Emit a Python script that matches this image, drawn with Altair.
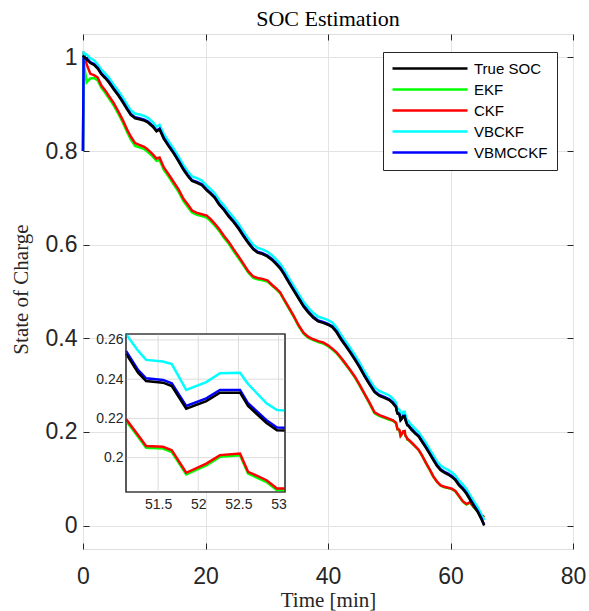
import altair as alt
import pandas as pd

# ---------------- data ----------------
time_min = [
    0, 0.1, 0.6, 1.2, 1.8, 2.4, 3.0, 3.6, 4.2, 5.0,
    5.8, 6.5, 7.2, 7.8, 8.5, 9.2, 10.0, 10.6, 11.4, 12.0,
    12.5, 13.2, 14.0, 14.8, 15.6, 16.4, 17.2, 17.8, 18.6, 19.4,
    20.2, 20.8, 21.5, 22.2, 23.0, 23.8, 24.6, 25.4, 26.2, 27.0,
    27.8, 28.5, 29.3, 30.1, 30.8, 31.5, 32.2, 32.8, 33.6, 34.4,
    35.2, 36.0, 36.8, 37.6, 38.4, 39.2, 40.0, 40.7, 41.4, 42.1,
    42.8, 43.6, 44.4, 45.2, 46.0, 46.8, 47.6, 48.4, 49.2, 50.0,
    50.6,
    51.1, 51.25, 51.35, 51.56, 51.67, 51.85, 52.1, 52.27, 52.52, 52.62, 52.85, 52.98, 53.08,
    53.6, 54.2, 54.8, 55.4, 56.0, 56.6, 57.2, 57.8, 58.4, 59.0,
    59.6, 60.2, 60.8, 61.4, 62.0, 62.6, 63.2, 63.8, 64.4, 65.0,
    65.5,
]

true_soc = [
    1.000, 1.002, 0.996, 0.988, 0.984, 0.976, 0.964, 0.956, 0.947, 0.932,
    0.918, 0.904, 0.889, 0.877, 0.870, 0.868, 0.865, 0.861, 0.852, 0.842,
    0.846, 0.826, 0.810, 0.795, 0.778, 0.760, 0.745, 0.736, 0.732, 0.727,
    0.716, 0.709, 0.700, 0.686, 0.674, 0.660, 0.648, 0.634, 0.618, 0.603,
    0.590, 0.583, 0.580, 0.575, 0.568, 0.559, 0.549, 0.537, 0.519, 0.502,
    0.485, 0.468, 0.455, 0.444, 0.436, 0.433, 0.429, 0.424, 0.413, 0.398,
    0.385, 0.370, 0.354, 0.337, 0.318, 0.301, 0.285, 0.277, 0.273, 0.268,
    0.261,
    0.2530, 0.2433, 0.2390, 0.2382, 0.2365, 0.2249, 0.2288, 0.2331, 0.2331, 0.2263, 0.2177, 0.2140, 0.2138,
    0.205, 0.197, 0.190, 0.178, 0.166, 0.153, 0.140, 0.127, 0.118, 0.113,
    0.109, 0.104, 0.097, 0.086, 0.078, 0.068, 0.055, 0.042, 0.030, 0.015,
    0.000,
]

ekf = [
    0.800, 0.990, 0.947, 0.955, 0.956, 0.951, 0.935, 0.925, 0.913, 0.898,
    0.879, 0.861, 0.841, 0.825, 0.811, 0.808, 0.804, 0.798, 0.788, 0.779,
    0.781, 0.760, 0.745, 0.729, 0.713, 0.693, 0.679, 0.669, 0.664, 0.661,
    0.658, 0.651, 0.641, 0.630, 0.615, 0.602, 0.586, 0.571, 0.556, 0.540,
    0.529, 0.526, 0.524, 0.521, 0.513, 0.505, 0.496, 0.482, 0.464, 0.446,
    0.426, 0.410, 0.401, 0.396, 0.392, 0.389, 0.383, 0.376, 0.368, 0.357,
    0.345, 0.331, 0.316, 0.298, 0.279, 0.260, 0.240, 0.234, 0.230, 0.226,
    0.224,
    0.2188, 0.2106, 0.2050, 0.2046, 0.2029, 0.1914, 0.1961, 0.2004, 0.2012, 0.1919, 0.1876, 0.1834, 0.1834,
    0.177, 0.169, 0.161, 0.148, 0.133, 0.119, 0.104, 0.093, 0.085, 0.082,
    0.080, 0.078, 0.073, 0.062, 0.051, 0.045, 0.049, 0.039, 0.031, 0.023,
    0.017,
]

ckf = [
    0.800, 1.012, 0.985, 0.965, 0.962, 0.957, 0.940, 0.930, 0.918, 0.903,
    0.884, 0.866, 0.846, 0.831, 0.817, 0.813, 0.809, 0.803, 0.793, 0.784,
    0.786, 0.765, 0.750, 0.734, 0.718, 0.698, 0.684, 0.673, 0.668, 0.665,
    0.662, 0.655, 0.645, 0.634, 0.619, 0.606, 0.590, 0.575, 0.559, 0.543,
    0.532, 0.529, 0.527, 0.524, 0.515, 0.507, 0.498, 0.484, 0.466, 0.448,
    0.428, 0.412, 0.403, 0.398, 0.394, 0.391, 0.385, 0.378, 0.370, 0.359,
    0.347, 0.333, 0.318, 0.300, 0.281, 0.262, 0.242, 0.236, 0.232, 0.228,
    0.225,
    0.2197, 0.2115, 0.2059, 0.2055, 0.2038, 0.1923, 0.1970, 0.2013, 0.2021, 0.1928, 0.1885, 0.1843, 0.1843,
    0.178, 0.170, 0.162, 0.149, 0.134, 0.120, 0.105, 0.094, 0.086, 0.083,
    0.081, 0.079, 0.074, 0.063, 0.052, 0.046, 0.050, 0.040, 0.032, 0.024,
    0.018,
]

vbckf = [
    0.800, 1.010, 1.006, 0.998, 0.994, 0.985, 0.974, 0.966, 0.957, 0.942,
    0.928, 0.914, 0.899, 0.887, 0.880, 0.878, 0.875, 0.871, 0.862, 0.852,
    0.856, 0.836, 0.820, 0.805, 0.788, 0.770, 0.755, 0.746, 0.742, 0.737,
    0.726, 0.719, 0.710, 0.696, 0.684, 0.670, 0.658, 0.644, 0.628, 0.613,
    0.600, 0.593, 0.590, 0.585, 0.578, 0.569, 0.559, 0.547, 0.529, 0.512,
    0.495, 0.478, 0.465, 0.454, 0.446, 0.443, 0.439, 0.434, 0.423, 0.408,
    0.395, 0.380, 0.364, 0.347, 0.328, 0.311, 0.295, 0.287, 0.283, 0.278,
    0.271,
    0.2630, 0.2545, 0.2498, 0.2490, 0.2477, 0.2345, 0.2385, 0.2430, 0.2433, 0.2375, 0.2277, 0.2243, 0.2240,
    0.215, 0.207, 0.200, 0.188, 0.176, 0.163, 0.150, 0.137, 0.128, 0.123,
    0.119, 0.114, 0.107, 0.096, 0.088, 0.078, 0.065, 0.052, 0.040, 0.025,
    0.012,
]

vbmcckf = [
    0.800, 1.000, 0.998, 0.990, 0.986, 0.978, 0.966, 0.958, 0.949, 0.934,
    0.920, 0.906, 0.891, 0.879, 0.872, 0.870, 0.867, 0.863, 0.854, 0.844,
    0.848, 0.828, 0.812, 0.797, 0.780, 0.762, 0.747, 0.738, 0.734, 0.729,
    0.718, 0.711, 0.702, 0.688, 0.676, 0.662, 0.650, 0.636, 0.620, 0.605,
    0.592, 0.585, 0.582, 0.577, 0.570, 0.561, 0.551, 0.539, 0.521, 0.504,
    0.487, 0.470, 0.457, 0.446, 0.438, 0.435, 0.431, 0.426, 0.415, 0.400,
    0.387, 0.372, 0.356, 0.339, 0.320, 0.303, 0.287, 0.279, 0.275, 0.270,
    0.263,
    0.2544, 0.2447, 0.2404, 0.2396, 0.2379, 0.2263, 0.2302, 0.2345, 0.2345, 0.2277, 0.2191, 0.2154, 0.2152,
    0.207, 0.199, 0.192, 0.180, 0.168, 0.155, 0.142, 0.129, 0.120, 0.115,
    0.111, 0.106, 0.099, 0.088, 0.080, 0.070, 0.057, 0.044, 0.032, 0.017,
    0.002,
]

series_names = ["True SOC", "EKF", "CKF", "VBCKF", "VBMCCKF"]
series_colors = ["#000000", "#00ff00", "#ff0000", "#00ffff", "#0000ff"]
series_values = [true_soc, ekf, ckf, vbckf, vbmcckf]
draw_order = ["EKF", "CKF", "VBCKF", "VBMCCKF", "True SOC"]

x_domain = [0, 80]
y_domain = [-0.05, 1.05]
x_ticks = [0, 20, 40, 60, 80]
y_ticks = [0, 0.2, 0.4, 0.6, 0.8, 1]

inset_x_domain = [51.1, 53.08]
inset_y_domain = [0.1825, 0.263]
inset_x_ticks = [51.5, 52, 52.5, 53]
inset_y_ticks = [0.2, 0.22, 0.24, 0.26]

# ---------------- layout ----------------
W, H = 490, 515
INSET_LEFT, INSET_RIGHT, INSET_TOP, INSET_BOTTOM = 43, 202, 300, 458
TICK_LEN = 6

rows = []
for name, vals in zip(series_names, series_values):
    for t, v in zip(time_min, vals):
        rows.append({"t": t, "soc": v, "series": name})
df = pd.DataFrame(rows)
df_in = df[(df["t"] >= inset_x_domain[0]) & (df["t"] <= inset_x_domain[1])]

LABEL_FONT = "Liberation Sans"
SERIF = "Liberation Serif"
AX_COLOR = "#262626"

color_enc = alt.Color(
    "series:N",
    scale=alt.Scale(domain=series_names, range=series_colors),
    legend=alt.Legend(
        title=None, orient="none", legendX=300, legendY=18, direction="vertical",
        symbolType="M-7,0H68", symbolSize=4, symbolStrokeWidth=2.5,
        labelFont=LABEL_FONT, labelFontSize=15, labelColor="#000000",
        labelOffset=67, rowPadding=5, padding=9,
        strokeColor=AX_COLOR, fillColor="white",
    ),
)

main_xscale = alt.Scale(domain=x_domain, nice=False, zero=False)
main_yscale = alt.Scale(domain=y_domain, nice=False, zero=False)

main_x = alt.X(
    "t:Q", scale=main_xscale,
    axis=alt.Axis(
        values=x_ticks, format="~f", grid=True, gridColor="#e3e3e3", gridWidth=1,
        domain=False, ticks=False, labelFont=LABEL_FONT, labelFontSize=23,
        labelColor=AX_COLOR, labelPadding=16, labelFlush=False, labelOverlap=False,
        title="Time [min]", titleFont=SERIF, titleFontSize=21, titleFontWeight="normal",
        titleColor=AX_COLOR, titleBaseline="alphabetic", titleY=57,
    ),
)
main_y = alt.Y(
    "soc:Q", scale=main_yscale,
    axis=alt.Axis(
        values=y_ticks, format="~f", grid=True, gridColor="#e3e3e3", gridWidth=1,
        domain=False, ticks=False, labelFont=LABEL_FONT, labelFontSize=23,
        labelColor=AX_COLOR, labelPadding=6, labelFlush=False, labelOverlap=False,
        title="State of Charge", titleFont=SERIF, titleFontSize=21, titleFontWeight="normal",
        titleColor=AX_COLOR, titleBaseline="alphabetic", titleAngle=270, titleX=-56, titleY=255,
    ),
)

main_layers = []
for name in draw_order:
    main_layers.append(
        alt.Chart(df[df["series"] == name])
        .mark_line(strokeWidth=2.5)
        .encode(x=main_x, y=main_y, color=color_enc)
    )
main = alt.layer(*main_layers)

# inward ticks on all four sides of the main box (MATLAB style)
tick_df = pd.DataFrame({"t": x_domain, "soc": y_domain})


def tick_axis(orient, values):
    return alt.Axis(orient=orient, offset=-TICK_LEN, values=values, tickSize=TICK_LEN,
                    tickColor=AX_COLOR, tickWidth=1, labels=False, domain=False,
                    grid=False, title=None)


ticks_tr = alt.Chart(tick_df).mark_point(opacity=0).encode(
    x=alt.X("t:Q", scale=main_xscale, axis=tick_axis("top", x_ticks)),
    y=alt.Y("soc:Q", scale=main_yscale, axis=tick_axis("right", y_ticks)),
)
ticks_bl = alt.Chart(tick_df).mark_point(opacity=0).encode(
    x=alt.X("t:Q", scale=main_xscale, axis=tick_axis("bottom", x_ticks)),
    y=alt.Y("soc:Q", scale=main_yscale, axis=tick_axis("left", y_ticks)),
)

# ---------------- inset ----------------
in_xscale = alt.Scale(domain=inset_x_domain, range=[INSET_LEFT, INSET_RIGHT], nice=False, zero=False)
in_yscale = alt.Scale(domain=inset_y_domain, range=[INSET_BOTTOM, INSET_TOP], nice=False, zero=False)
in_xaxis = alt.Axis(
    orient="bottom", offset=-(H - INSET_BOTTOM), values=inset_x_ticks, format="~f",
    grid=False, domain=False, ticks=False, labelFont=LABEL_FONT, labelFontSize=14,
    labelColor=AX_COLOR, labelPadding=5, labelFlush=False, labelOverlap=False, title=None,
)
in_yaxis = alt.Axis(
    orient="left", offset=-INSET_LEFT, values=inset_y_ticks, format="~f",
    grid=False, domain=False, ticks=False, labelFont=LABEL_FONT, labelFontSize=14,
    labelColor=AX_COLOR, labelPadding=3, labelFlush=False, labelOverlap=False, title=None,
)

frame_df = pd.DataFrame([{"x0": inset_x_domain[0], "x1": inset_x_domain[1],
                          "y0": inset_y_domain[0], "y1": inset_y_domain[1]}])
frame = alt.Chart(frame_df).mark_rect(fill="white", stroke="#3a3a3a", strokeWidth=1.2).encode(
    x=alt.X("x0:Q", scale=in_xscale, axis=in_xaxis), x2="x1:Q",
    y=alt.Y("y0:Q", scale=in_yscale, axis=in_yaxis), y2="y1:Q",
)

vgrid_df = pd.DataFrame({"gx": inset_x_ticks,
                         "y0": [inset_y_domain[0]] * len(inset_x_ticks),
                         "y1": [inset_y_domain[1]] * len(inset_x_ticks)})
vgrid = alt.Chart(vgrid_df).mark_rule(color="#dcdcdc", strokeWidth=1).encode(
    x=alt.X("gx:Q", scale=in_xscale, axis=in_xaxis),
    y=alt.Y("y0:Q", scale=in_yscale, axis=in_yaxis), y2="y1:Q",
)
hgrid_df = pd.DataFrame({"gy": inset_y_ticks,
                         "x0": [inset_x_domain[0]] * len(inset_y_ticks),
                         "x1": [inset_x_domain[1]] * len(inset_y_ticks)})
hgrid = alt.Chart(hgrid_df).mark_rule(color="#dcdcdc", strokeWidth=1).encode(
    x=alt.X("x0:Q", scale=in_xscale, axis=in_xaxis), x2="x1:Q",
    y=alt.Y("gy:Q", scale=in_yscale, axis=in_yaxis),
)

inset_layers = [frame, vgrid, hgrid]
for name in draw_order:
    inset_layers.append(
        alt.Chart(df_in[df_in["series"] == name])
        .mark_line(strokeWidth=2.5)
        .encode(
            x=alt.X("t:Q", scale=in_xscale, axis=in_xaxis),
            y=alt.Y("soc:Q", scale=in_yscale, axis=in_yaxis),
            color=color_enc,
        )
    )
border = alt.Chart(frame_df).mark_rect(fill=None, fillOpacity=0, stroke="#3a3a3a", strokeWidth=1.2).encode(
    x=alt.X("x0:Q", scale=in_xscale, axis=in_xaxis), x2="x1:Q",
    y=alt.Y("y0:Q", scale=in_yscale, axis=in_yaxis), y2="y1:Q",
)
inset_layers.append(border)
inset = alt.layer(*inset_layers)

chart = (
    alt.layer(main, inset, ticks_tr, ticks_bl)
    .resolve_scale(x="independent", y="independent", color="shared")
    .properties(
        width=W, height=H,
        title=alt.TitleParams("SOC Estimation", font=SERIF, fontSize=22, fontWeight="normal",
                              color="#000000", anchor="middle", offset=2, baseline="bottom",
                              frame="group", dy=24),
        padding={"left": 83, "top": 34, "right": 16, "bottom": 62},
        autosize=alt.AutoSizeParams(type="none"),
    )
    .configure_view(stroke="#404040", strokeWidth=1.2)
    .configure(background="white")
)

chart.save("out.html", embed_options={"renderer": "svg", "actions": False})
